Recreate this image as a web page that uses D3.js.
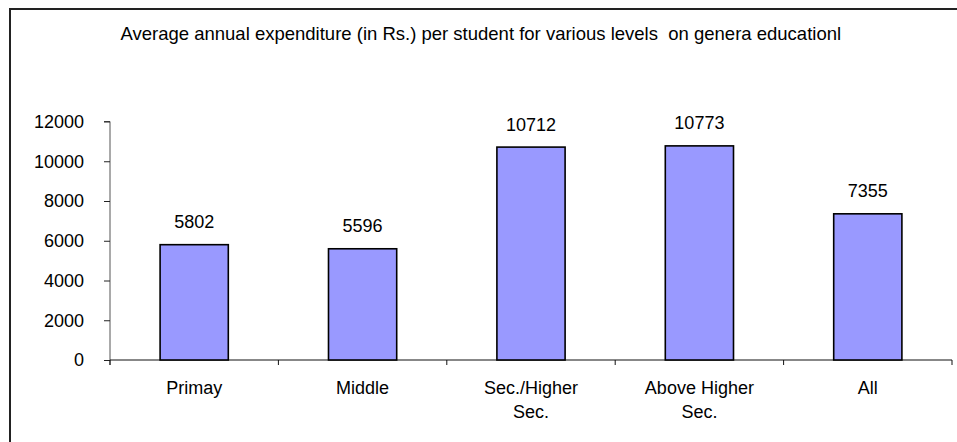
<!DOCTYPE html>
<html>
<head>
<meta charset="utf-8">
<script src="https://cdn.jsdelivr.net/npm/d3@7"></script>
<style>
  html, body { margin: 0; padding: 0; background: #fff; }
  svg { display: block; }
  text { font-family: "Liberation Sans", Arial, sans-serif; fill: #000; }
</style>
</head>
<body>
<svg id="chart" width="957" height="442"></svg>
<script>
const title = "Average annual expenditure (in Rs.) per student for various levels  on genera educationl";
const categories = [["Primay"], ["Middle"], ["Sec./Higher", "Sec."], ["Above Higher", "Sec."], ["All"]];
const values = [5802, 5596, 10712, 10773, 7355];
const yTicks = [0, 2000, 4000, 6000, 8000, 10000, 12000];

(function () {
const svg = d3.select("#chart");
const W = 957, H = 442;
const mLeft = 110, mRight = 952, mTop = 121.5, mBottom = 360;

// frame (left + top edges visible)
svg.append("path")
  .attr("d", `M10,${H} L10,9 L${W},9`)
  .attr("fill", "none").attr("stroke", "#222").attr("stroke-width", 2);

// title
svg.append("text")
  .attr("x", 120.5).attr("y", 39.5)
  .style("font-size", "18.5px")
  .style("white-space", "pre")
  .attr("xml:space", "preserve")
  .text(title);

const keys = categories.map((c, i) => i);
const x = d3.scaleBand().domain(keys).range([mLeft, mRight]).paddingInner(0).paddingOuter(0);
const y = d3.scaleLinear().domain([0, 12000]).range([mBottom, mTop]);

// y axis
const yAxis = d3.axisLeft(y).tickValues(yTicks).tickSize(6).tickPadding(20).tickFormat(d3.format("d"));
const gy = svg.append("g").attr("transform", `translate(${mLeft},0)`).call(yAxis);
gy.select(".domain").attr("stroke", "#555").attr("d", `M-6,${mTop}H0V${mBottom + 5}`);
gy.selectAll(".tick line").attr("stroke", "#222");
gy.selectAll(".tick text").style("font-size", "18px").style("font-family", "'Liberation Sans', Arial, sans-serif").attr("fill", "#000");

// x axis line and ticks at band boundaries
svg.append("line").attr("x1", mLeft).attr("x2", mRight).attr("y1", mBottom).attr("y2", mBottom)
  .attr("stroke", "#111").attr("stroke-width", 1);
const bounds = keys.map(k => x(k)).concat([x(keys[keys.length - 1]) + x.bandwidth()]);
svg.selectAll(".xtick").data(bounds).enter().append("line")
  .attr("x1", d => d).attr("x2", d => d).attr("y1", mBottom).attr("y2", mBottom + 5)
  .attr("stroke", "#111");

// bars
const barW = x.bandwidth() * 0.405;
svg.selectAll(".bar").data(values).enter().append("rect")
  .attr("x", (d, i) => x(i) + x.bandwidth() / 2 - barW / 2)
  .attr("y", d => y(d))
  .attr("width", barW)
  .attr("height", d => mBottom - y(d))
  .attr("fill", "#9999FF")
  .attr("stroke", "#000").attr("stroke-width", 1.6);

// value labels
svg.selectAll(".val").data(values).enter().append("text")
  .attr("x", (d, i) => x(i) + x.bandwidth() / 2)
  .attr("y", d => y(d) - 16.5)
  .attr("text-anchor", "middle")
  .style("font-size", "18px")
  .text(d => d);

// category labels
const lab = svg.selectAll(".cat").data(categories).enter().append("text")
  .attr("x", (d, i) => x(i) + x.bandwidth() / 2)
  .attr("y", 393.5)
  .attr("text-anchor", "middle")
  .style("font-size", "18px");
lab.selectAll("tspan").data(d => d).enter().append("tspan")
  .attr("x", function() { return this.parentNode.getAttribute("x"); })
  .attr("dy", (d, j) => j === 0 ? 0 : 24.5)
  .text(d => d);
})();
</script>
</body>
</html>
